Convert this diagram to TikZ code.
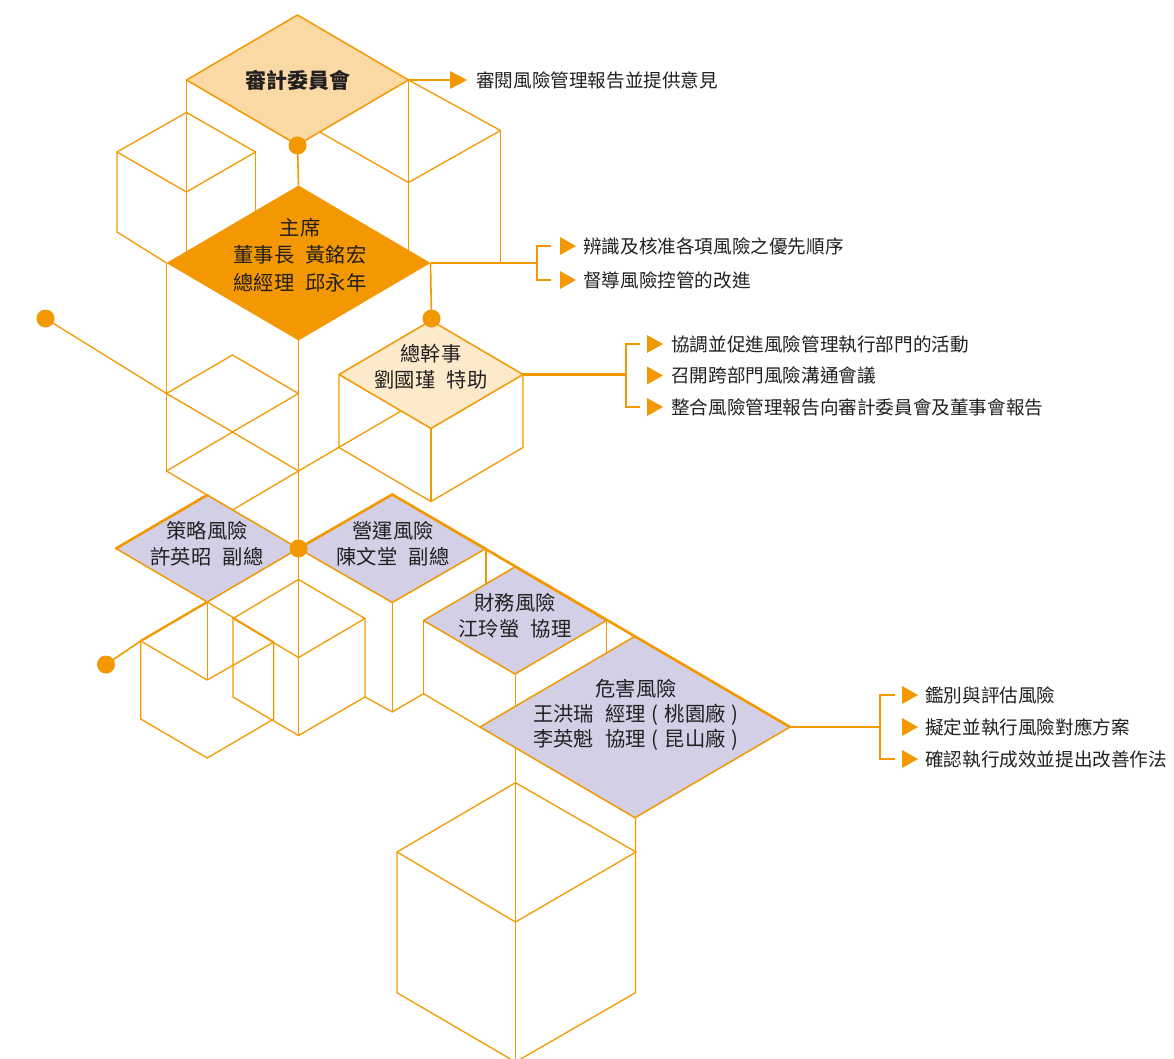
\documentclass[tikz,border=0pt]{standalone}
\usepackage{fontspec}
\setmainfont{Noto Sans CJK TC}
\definecolor{org}{HTML}{F39800}
\definecolor{lorg}{HTML}{FBD9A5}
\definecolor{porg}{HTML}{FDEACB}
\definecolor{lav}{HTML}{D2CFE6}
\definecolor{txt}{HTML}{231F20}
\newcommand\rtri[1]{\fill[org] (#1) ++(0,-9) -- ++(16,9) -- ++(-16,9) -- cycle;}
\newcommand\gap{\hspace{0.55em}}
\newcommand\pgap{\hspace{0.3em}}
\begin{document}
\begin{tikzpicture}[x=1pt,y=-1pt,
  wire/.style={draw=org,line width=1.3pt,line join=round},
  heavy/.style={draw=org,line width=2.6pt,line cap=round},
  conn/.style={draw=org,line width=2.3pt},
  link/.style={draw=org,line width=1.6pt},
  dmd/.style={draw=org,line width=1.5pt,line join=round},
  lbl/.style={font=\fontsize{18.6}{22}\selectfont,text=txt,inner sep=0pt,anchor=west},
  dt/.style={font=\fontsize{20.3}{26}\selectfont,text=txt,inner sep=0pt,align=center},
  dotf/.style={fill=org}]
\useasboundingbox (0,0) rectangle (1174,1059);
\clip (0,0) rectangle (1174,1059);

% ---------- background wireframe ----------
% top group
\draw[wire] (186.5,80) -- (186.5,262);
\draw[wire] (408.5,80) -- (408.5,260);
\draw[wire] (186.5,112.5) -- (255.5,152) -- (186.5,192) -- (117,152) -- cycle;
\draw[wire] (117,152) -- (117,232) -- (166.5,263);
\draw[wire] (255.5,152) -- (255.5,220);
\draw[wire] (408.5,80) -- (500.5,130.5) -- (408.5,182.5) -- (318,131);
\draw[wire] (500.5,130.5) -- (500.5,263);
% chair down
\draw[wire] (166.5,263) -- (166.5,471);
\draw[wire] (298.5,340) -- (298.5,735.5);
% middle cube
\draw[wire] (232.5,355) -- (298.5,393.5) -- (232.5,432) -- (166.5,393.5) -- cycle;
\draw[wire] (232.5,432) -- (298.5,471) -- (232.5,510) -- (166.5,471) -- cycle;
\draw[wire] (45.5,318.5) -- (166.5,393.5);
\draw[wire] (298.5,471) -- (405,408.7);
% under secretary
\draw[wire] (339,374.5) -- (339,447.5) -- (431,501.5) -- (523,447.5) -- (523,374.5);
\draw[wire] (431,428.5) -- (431,501.5);
% cube A
\draw[wire] (207.25,602) -- (273.75,642) -- (207.25,680) -- (140.75,641) -- cycle;
\draw[wire] (207.25,602) -- (207.25,680);
\draw[wire] (140.75,641) -- (140.75,719) -- (207.25,758) -- (273.75,719) -- (273.75,642);
% cube B
\draw[wire] (298.5,579.5) -- (365,618.5) -- (298.5,657.5) -- (233,618.5) -- cycle;
\draw[wire] (233,618.5) -- (233,697) -- (298.5,735.5) -- (365,697) -- (365,618.5);
% under operations / finance
\draw[wire] (392.25,602.5) -- (392.25,712);
\draw[wire] (365,697) -- (392.25,712) -- (423.5,693.7) -- (480,727);
\draw[wire] (486,548.5) -- (486,590);
\draw[wire] (423.5,620.5) -- (423.5,693.7);
\draw[wire] (606.5,620.5) -- (606.5,656);
\draw[wire] (515.5,674) -- (515.5,1062);
% bottom cube
\draw[wire] (515.5,782.7) -- (636,852) -- (515.5,922) -- (397,852) -- cycle;
\draw[wire] (397,852) -- (397,992.7) -- (515.5,1062) -- (635.5,992.7) -- (635.5,817.7);

% ---------- diamonds ----------
\filldraw[dmd,fill=lorg] (186.5,80) -- (297.5,15) -- (408.5,80) -- (297.5,145) -- cycle;
\fill[org] (166.5,263) -- (298.5,185.5) -- (430.5,263) -- (298.5,340.5) -- cycle;
\filldraw[dmd,fill=porg] (339,374.5) -- (431,320.5) -- (523,374.5) -- (431,428.5) -- cycle;
\filldraw[dmd,fill=lav] (116,548.5) -- (207.25,495) -- (298.5,548.5) -- (207.25,602) -- cycle;
\filldraw[dmd,fill=lav] (298.5,548.5) -- (392.25,494.5) -- (486,548.5) -- (392.25,602.5) -- cycle;
\filldraw[dmd,fill=lav] (423.5,620.5) -- (515,567) -- (606.5,620.5) -- (515,674) -- cycle;
\filldraw[dmd,fill=lav] (480,727) -- (635,636.3) -- (790,727) -- (635,817.7) -- cycle;

% heavy edges
\draw[heavy] (116,548.5) -- (207.25,495);
\draw[heavy] (298.5,548.5) -- (392.25,494.5) -- (790,727);

% ---------- coordinates ----------
\coordinate (d0r) at (408.5,80);
\coordinate (d0b) at (297.5,145.5);
\coordinate (d1t) at (298.5,185.5);
\coordinate (d1r) at (430.5,263);
\coordinate (d2t) at (431.5,318.5);
\coordinate (d2r) at (523,374.5);
\coordinate (d3b) at (207.25,602);
\coordinate (d6r) at (790,727);
\coordinate (dl1) at (45.5,318.5);
\coordinate (dl2) at (106,664.5);
\coordinate (ca) at (140.75,641);
\coordinate (dc) at (298.5,548.5);

% connectors
\draw[link] (d0b) -- (d1t);
\draw[link] (d1r) -- (d2t);
\draw[link] (dl2) -- (ca);
\draw[conn] (ca) -- (d3b);

% top arrow
\coordinate (a0) at (451,80);
\draw[conn] (d0r) -- (a0);
\fill[org] (450,71) -- (467,80) -- (450,89) -- cycle;
\node[lbl] (t0) at (476,80) {審閱風險管理報告並提供意見};

% bracket 1
\coordinate (b1) at (537,263);
\draw[conn] (d1r) -- (b1);
\draw[conn] (551,246) -- (537,246) -- (537,280) -- (551,280);
\rtri{560,246}
\rtri{560,280}
\node[lbl] (t11) at (583,246) {辨識及核准各項風險之優先順序};
\node[lbl] (t12) at (583,280) {督導風險控管的改進};

% bracket 2
\coordinate (b2) at (626,374.5);
\draw[conn] (d2r) -- (b2);
\draw[conn] (640,344) -- (626,344) -- (626,407) -- (640,407);
\rtri{647,344}
\rtri{647,375.5}
\rtri{647,407}
\node[lbl] (t21) at (671,344) {協調並促進風險管理執行部門的活動};
\node[lbl] (t22) at (671,375.5) {召開跨部門風險溝通會議};
\node[lbl] (t23) at (671,407) {整合風險管理報告向審計委員會及董事會報告};

% bracket 3
\coordinate (b3) at (880,727);
\draw[conn] (d6r) -- (b3);
\draw[conn] (895,695) -- (880,695) -- (880,759) -- (895,759);
\rtri{902,695}
\rtri{902,727}
\rtri{902,759}
\node[lbl] (t31) at (925,695) {鑑別與評估風險};
\node[lbl] (t32) at (925,727) {擬定並執行風險對應方案};
\node[lbl] (t33) at (925,759) {確認執行成效並提出改善作法};

% dots
\fill[dotf] (d0b) circle (9);
\fill[dotf] (d2t) circle (9);
\fill[dotf] (dl1) circle (9);
\fill[dotf] (dl2) circle (9);
\fill[dotf] (dc) circle (9);

% ---------- diamond texts ----------
\node[dt,font=\fontsize{21}{26}\selectfont\bfseries] (n0) at (298,80) {審計委員會};
\node[dt,font=\fontsize{20.3}{27.5}\selectfont] (n1) at (300,255) {主席\\董事長\gap 黃銘宏\\總經理\gap 邱永年};
\node[dt] (n2) at (431,367) {總幹事\\劉國瑾\gap 特助};
\node[dt] (n3) at (207,544) {策略風險\\許英昭\gap 副總};
\node[dt] (n4) at (393,543.5) {營運風險\\陳文堂\gap 副總};
\node[dt] (n5) at (515,616) {財務風險\\江玲螢\gap 協理};
\node[dt,font=\fontsize{20.3}{25}\selectfont] (n6) at (636,715) {危害風險\\王洪瑞\gap 經理\pgap(\pgap 桃園廠\pgap)\\李英魁\gap 協理\pgap(\pgap 昆山廠\pgap)};
\end{tikzpicture}
\end{document}
